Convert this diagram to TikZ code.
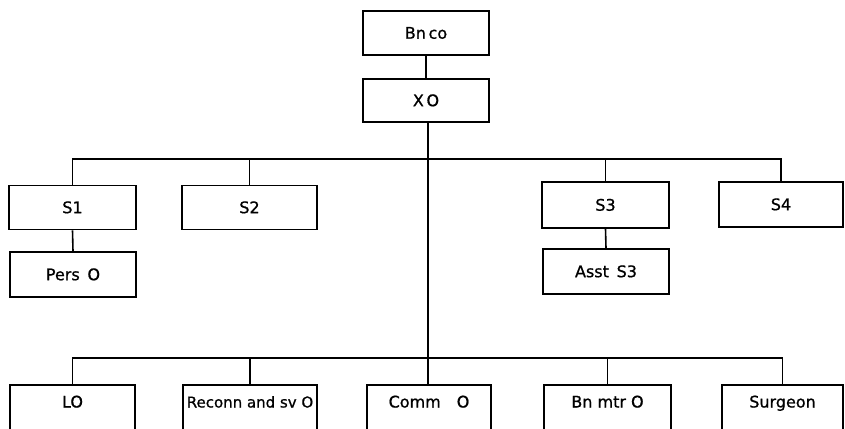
\documentclass[tikz,border=0pt]{standalone}
\usepackage{fontspec}
\setmainfont[FakeBold=0.9]{DejaVu Sans}
\begin{document}
\begin{tikzpicture}[x=1pt,y=-1pt,
  box/.style={draw,line width=1.6pt,rectangle,inner sep=0pt,font=\fontsize{16}{18}\selectfont,minimum height=44pt,text height=11.4pt,text depth=0pt},
  lowbox/.style={box,minimum height=45pt,text height=6pt,text depth=6pt},
  conn/.style={line width=1.6pt}]
\useasboundingbox (0,0) rectangle (845,428);
\clip (0,0) rectangle (845,428);
\node[box,minimum width=126pt] (bnco) at (426,33) {Bn\,co};
\node[box,minimum width=126pt,minimum height=43pt] (xo) at (426,100.5) {X\,O};
\node[box,minimum width=127pt] (s1) at (72.5,207.5) {S1};
\node[box,minimum width=135pt] (s2) at (249.5,207.5) {S2};
\node[box,minimum width=127pt,minimum height=46pt] (s3) at (605.5,205) {S3};
\node[box,minimum width=124pt,minimum height=45pt] (s4) at (781,204.5) {S4};
\node[box,minimum width=126pt,minimum height=45pt] (pers) at (73,274.5) {Pers\, O};
\node[box,minimum width=126pt,minimum height=45pt] (asst) at (606,271.5) {Asst\, S3};
\node[lowbox,minimum width=125pt] (lo) at (72.5,407.5) {LO};
\node[lowbox,minimum width=134pt] (recon) at (250,407.5) {\fontsize{15}{17}\selectfont Reconn and sv O};
\node[lowbox,minimum width=124pt] (comm) at (429,407.5) {Comm\quad O};
\node[lowbox,minimum width=127pt] (bnmtr) at (607.5,407.5) {Bn mtr O};
\node[lowbox,minimum width=121pt] (surg) at (782.5,407.5) {Surgeon};
\coordinate (j1) at (428,159);
\coordinate (j2) at (428,358);
\draw[conn] (bnco.south) -- (xo.north);
\draw[conn] (xo.south -| j1) -- (j1) -- (comm.north -| j1);
\draw[conn] (s1.north) |- (s4.north |- j1) -- (s4.north);
\draw[conn] (s2.north) -- (s2.north |- j1);
\draw[conn] (s3.north) -- (s3.north |- j1);
\draw[conn] (s1.south) -- (pers.north);
\draw[conn] (s3.south) -- (asst.north);
\draw[conn] (lo.north) |- (surg.north |- j2) -- (surg.north);
\draw[conn] (recon.north) -- (recon.north |- j2);
\draw[conn] (bnmtr.north) -- (bnmtr.north |- j2);
\end{tikzpicture}
\end{document}
